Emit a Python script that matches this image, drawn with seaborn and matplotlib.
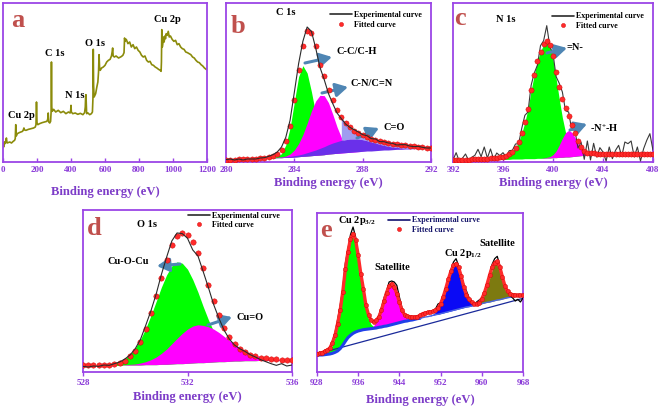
import numpy as np
import matplotlib
matplotlib.use("Agg")
import matplotlib.pyplot as plt
import seaborn as sns
from matplotlib.lines import Line2D

# ---------------- (a) survey spectrum ----------------
survey_ev = [0, 4, 8, 12, 16, 20, 24, 30, 40, 50, 60, 68, 72, 75, 78, 84, 95, 105, 115, 120,
             123, 127, 135, 150, 165, 180, 190, 194, 197, 200, 205, 215, 230, 245, 258, 263, 266, 269, 275, 280,
             283, 285, 287, 290, 298, 310, 325, 340, 355, 370, 385, 395, 398, 400, 402, 410, 425, 440, 455, 470,
             480, 484, 486, 488, 490, 492, 500, 510, 520, 526, 529, 531, 533, 536, 545, 552, 558, 562, 565, 568,
             572, 580, 590, 600, 610, 620, 630, 638, 642, 645, 648, 655, 665, 680, 695, 705, 712, 715, 718, 725,
             735, 745, 755, 765, 775, 785, 795, 805, 815, 825, 835, 845, 855, 865, 875, 885, 895, 905, 915, 925,
             930, 932, 934, 937, 940, 944, 948, 952, 956, 960, 966, 972, 978, 985, 995, 1005, 1015, 1025, 1035, 1045,
             1055, 1065, 1075, 1085, 1095, 1105, 1115, 1125, 1135, 1145, 1155, 1165, 1175, 1185, 1195, 1200]
survey_cps = [55, 45, 60, 55, 62, 72, 57, 58, 60, 57, 62, 65, 70, 112, 78, 85, 88, 90, 92, 97,
              102, 96, 95, 98, 100, 102, 105, 112, 180, 118, 112, 115, 118, 120, 122, 128, 147, 120, 117, 122,
              150, 300, 165, 152, 158, 150, 155, 148, 152, 145, 150, 147, 155, 170, 150, 145, 147, 143, 146, 142,
              148, 165, 195, 202, 170, 145, 147, 142, 145, 150, 190, 338, 230, 195, 205, 225, 240, 270, 322, 285,
              275, 282, 285, 290, 300, 305, 308, 318, 330, 342, 318, 315, 318, 312, 316, 320, 328, 372, 362, 368,
              355, 360, 345, 352, 340, 345, 335, 330, 320, 315, 318, 305, 300, 302, 292, 290, 285, 282, 278, 275,
              272, 300, 397, 345, 355, 375, 360, 378, 370, 385, 380, 392, 375, 378, 368, 362, 365, 352, 355, 345,
              340, 338, 330, 328, 325, 322, 315, 312, 305, 300, 298, 292, 288, 282, 278, 277]

# ---------------- (b) C 1s ----------------
c1s_ev = np.linspace(280, 292, 49)
c1s_fit = [7, 7, 7, 8, 8, 8, 9, 10,
           11, 13, 15, 19, 25, 37, 62, 107,
           187, 277, 347, 392, 387, 347, 292, 257,
           217, 185, 155, 135, 117, 104, 94, 86,
           80, 74, 69, 65, 62, 59, 57, 55,
           53, 51, 50, 48, 47, 46, 44, 43,
           42]
c1s_resid = [0, 2, -1, 1, -2, 1, 0, -1,
             1, 0, 2, 3, 5, 8, 12, 18,
             22, 18, 15, 13, 5, -5, -8, -10,
             -12, -10, -8, -5, -3, 0, 3, 4,
             2, 5, 1, 4, -1, 2, 0, 1,
             -2, 1, 2, 0, -1, 1, 0, -1,
             0]
c1s_base = [7, 7, 8, 8, 9, 9, 10, 10,
            11, 11, 12, 12, 13, 13, 14, 14,
            15, 16, 17, 18, 19, 20, 21, 22,
            24, 25, 26, 27, 28, 29, 30, 31,
            32, 33, 33, 34, 35, 36, 36, 37,
            38, 38, 39, 39, 40, 40, 41, 41,
            42]
c1s_cc = [0] * 10 + [1, 2, 4, 12, 37, 88, 165, 240, 272, 249, 192, 125, 68, 31, 12, 4, 1] + [0] * 22
c1s_cn = [0] * 12 + [1, 2, 4, 10, 21, 39, 65, 98, 134, 163, 179, 177, 154, 118, 79, 47, 25, 11, 5, 2, 1] + [0] * 16
c1s_co = [0] * 12 + [1, 1, 2, 3, 4, 5, 7, 10, 13, 16, 20, 24, 28, 32, 35, 38, 39, 40, 39, 38,
                     35, 31, 27, 23, 18, 14, 11, 8, 6, 4, 3, 2, 2, 1, 1, 0, 0]

# ---------------- (c) N 1s ----------------
n1s_ev = np.linspace(392, 408, 65)
n1s_base = [5, 5, 5, 5, 5, 6, 6, 6,
            6, 6, 7, 7, 7, 7, 8, 8,
            8, 8, 8, 9, 9, 9, 9, 10,
            10, 10, 10, 11, 11, 11, 12, 12,
            13, 13, 14, 14, 15, 15, 16, 17,
            18, 19, 20, 21, 22, 23, 23, 24,
            24, 24, 25, 25, 25, 25, 25, 25,
            25, 25, 25, 25, 25, 25, 25, 25,
            25]
n1s_imine = [1, 1, 1, 1, 1, 1, 2, 2,
             2, 2, 3, 3, 4, 4, 5, 6,
             8, 11, 15, 22, 33, 52, 77, 110,
             150, 205, 252, 292, 320, 342, 350, 335,
             295, 237, 175, 119, 74, 42, 22, 12,
             7, 5, 4, 3, 2, 2, 1, 0] + [0] * 17
n1s_amine = [0] * 29 + [1, 2, 4, 9, 20, 37, 57, 73, 80, 73, 57, 37, 20, 9, 4, 2, 1] + [0] * 19
n1s_fit = [6, 6, 6, 6, 6, 7, 8, 8,
           8, 8, 10, 10, 11, 11, 12, 14,
           16, 19, 24, 31, 42, 61, 87, 120,
           160, 215, 262, 302, 331, 354, 364, 351,
           317, 271, 226, 190, 162, 138, 111, 86,
           62, 44, 33, 28, 26, 26, 25, 25] + [25] * 17
n1s_resid = [0, 22, -3, 5, 18, -2, 6, 12,
             30, 8, 35, 2, 28, -3, 15, 5,
             12, -4, 10, 4, 12, -6, 14, 20,
             -10, 15, 5, -12, 18, 10, 45, -5,
             8, -15, 10, 20, -8, 12, -15, 10,
             -20, 15, -25, 35, -20, 30, -10, 18,
             5, -22, 20, -15, 10, 25, -8, 35,
             30, 38, -10, 20, -22, 15, 40, 60,
             10]

# ---------------- (d) O 1s ----------------
o1s_ev = np.linspace(528, 536, 41)
o1s_fit = [20, 20, 20, 21, 21, 22, 23, 27, 34, 47,
           64, 90, 130, 176, 228, 283, 337, 382, 410, 418,
           412, 392, 357, 312, 262, 213, 170, 132, 104, 84,
           70, 60, 52, 47, 43, 41, 39, 38, 37, 36,
           35]
o1s_resid = [-3, -5, -2, -4, 0, -2, 2, 3, 5, 4,
             6, 8, 10, 8, 6, 10, 8, 12, 8, -2,
             -10, -25, -8, -10, -8, -10, -8, -6, -5, -3,
             0, 2, 0, -2, -6, -10, -14, -18, -12, -18,
             -14]
o1s_base = [20, 20, 20, 20, 20, 20, 20, 20, 21, 21,
            21, 21, 22, 22, 22, 23, 23, 24, 25, 25,
            26, 27, 28, 28, 29, 30, 31, 31, 32, 33,
            33, 34, 34, 34, 35, 35, 35, 35, 35, 35,
            35]
o1s_cuocu = [0, 0, 0, 0, 1, 3, 6, 11, 19, 32,
             51, 77, 109, 148, 190, 232, 269, 295, 306, 302,
             283, 251, 212, 169, 128, 92, 63, 41, 25, 15,
             8, 4, 2, 1, 0, 0, 0, 0, 0, 0,
             0]
o1s_cuo = [0, 0, 0, 0, 0, 0, 0, 0, 1, 2,
           3, 6, 9, 15, 23, 33, 46, 61, 76, 91,
           103, 111, 114, 112, 107, 99, 88, 76, 63, 51,
           40, 30, 22, 16, 11, 7, 4, 3, 2, 1,
           1]

# ---------------- (e) Cu 2p ----------------
cu_ev = np.linspace(928, 968, 81)
cu_fit = [55, 56, 58, 62, 66, 72, 88, 110, 145, 185,
          240, 308, 360, 400, 415, 395, 350, 295, 250, 200,
          172, 155, 150, 155, 165, 185, 212, 238, 258, 265,
          255, 235, 210, 185, 172, 168, 166, 165, 165, 166,
          170, 175, 177, 179, 180, 182, 185, 192, 205, 225,
          250, 278, 302, 320, 325, 314, 287, 255, 232, 218,
          210, 205, 205, 208, 220, 237, 262, 290, 315, 328,
          332, 315, 285, 258, 242, 235, 232, 231, 230, 230,
          230]
cu_resid = [-3, 4, -2, 3, -4, 2, 5, 8, 12, 15,
            10, 18, 8, 12, 20, 10, 5, -2, 3, -3,
            2, -2, 1, -3, 4, 8, 10, 5, 12, 8,
            15, 25, 15, 8, 2, -2, 0, -1, 2, -1,
            0, 1, -2, 1, 0, 2, 4, 12, 3, 5,
            2, -3, 5, 10, 15, 5, 3, 8, 12, 6,
            3, -2, 5, 8, 2, 4, -2, 3, 8, 12,
            15, 5, 2, -3, 2, -5, -10, -18, -12, -20,
            -8]
cu_shirley = [50, 51, 51, 52, 53, 54, 56, 59, 63, 70,
              80, 92, 103, 110, 116, 120, 123, 125, 127, 128,
              129, 130, 131, 132, 134, 135, 137, 138, 140, 142,
              144, 146, 148, 150, 152, 153, 155, 156, 158, 160,
              161, 163, 165, 166, 168, 170, 172, 173, 175, 177,
              179, 181, 183, 185, 187, 189, 191, 193, 195, 196,
              198, 200, 202, 203, 205, 207, 209, 210, 212, 214,
              216, 217, 219, 221, 223, 224, 226, 227, 228, 229,
              230]
cu_linear_ev = [928, 968]
cu_linear = [54, 221]
cu_p32 = [0, 0, 1, 3, 6, 13, 25, 45, 75, 114, 161, 211, 256, 288, 299, 281, 232, 168, 108, 61,
          30, 13, 5, 2, 1] + [0] * 56
cu_sat1 = [0] * 20 + [1, 4, 8, 17, 31, 51, 75, 98, 116, 123, 115, 94, 66, 41, 22, 10, 4, 1] + [0] * 43
cu_p12 = [0] * 44 + [1, 3, 7, 15, 26, 44, 66, 91, 115, 132, 138, 128, 103, 71, 42, 22, 10, 4, 1] + [0] * 18
cu_sat2 = [0] * 61 + [1, 3, 8, 16, 29, 48, 71, 94, 111, 117, 104, 74, 42, 19, 7, 2, 1] + [0] * 3

for grp in [(c1s_ev, c1s_fit, c1s_resid, c1s_base, c1s_cc, c1s_cn, c1s_co),
            (n1s_ev, n1s_base, n1s_imine, n1s_amine, n1s_fit, n1s_resid),
            (o1s_ev, o1s_fit, o1s_resid, o1s_base, o1s_cuocu, o1s_cuo),
            (cu_ev, cu_fit, cu_resid, cu_shirley, cu_p32, cu_sat1, cu_p12, cu_sat2)]:
    assert len(set(len(g) for g in grp)) == 1, [len(g) for g in grp]

# ---------------- styling ----------------
sns.set_theme(style="white")
plt.rcParams["font.family"] = ["Liberation Serif", "DejaVu Serif"]
plt.rcParams["font.weight"] = "bold"
plt.rcParams["mathtext.fontset"] = "custom"
plt.rcParams["mathtext.rm"] = "Liberation Serif:bold"
plt.rcParams["mathtext.it"] = "Liberation Serif:bold"
plt.rcParams["mathtext.bf"] = "Liberation Serif:bold"

W, H = 661, 408
fig = plt.figure(figsize=(W / 100, H / 100), dpi=100)
fig.patch.set_facecolor("white")

SPINE = "#9b45e6"
TICK = "#8a3ad8"
XLAB = "#7d3cc8"
RED = "#ff2b2b"
REDE = "#d00000"
EXP = "#2a2a2a"
ARROW = "#4f86b4"
LETTER = "#c0504d"
GREEN = "#00ff00"
MAGENTA = "#ff00ff"


def axes_px(x0, y0, x1, y1):
    return fig.add_axes([x0 / W, 1 - y1 / H, (x1 - x0) / W, (y1 - y0) / H])


def style(ax, ticks, ylim, label_y, tickdir="in"):
    ax.set_xlim(ticks[0], ticks[-1])
    ax.set_ylim(*ylim)
    ax.set_xticks(ticks)
    ax.set_xticklabels([str(t) for t in ticks])
    ax.set_yticks([])
    ax.grid(False)
    ax.set_facecolor("white")
    for s in ax.spines.values():
        s.set_visible(True)
        s.set_color(SPINE)
        s.set_linewidth(1.3)
    ax.tick_params(axis="x", direction=tickdir, length=2.8, width=1, color=SPINE,
                   labelsize=6.5, labelcolor=TICK, pad=3 if tickdir == "in" else 2, bottom=True)
    ax.set_xlabel("Binding energy (eV)", fontsize=9.1, fontweight="bold", color=XLAB)
    ax.xaxis.set_label_coords(0.5, label_y)
    ax.xaxis.label.set_va("center")


def ftext(x, y, s, size=7.5, color="black", **kw):
    fig.text(x / W, 1 - y / H, s, ha="center", va="center", fontsize=size,
             fontweight="bold", color=color, **kw)


def letter(x, y, s):
    fig.text(x / W, 1 - y / H, s, ha="center", va="baseline", fontsize=19,
             fontweight="bold", color=LETTER)


def farrow(ax, x0, y0, x1, y1):
    ax.annotate("", xy=(x1, H - y1), xytext=(x0, H - y0), xycoords="figure pixels",
                textcoords="figure pixels",
                arrowprops=dict(arrowstyle="-|>,head_width=0.45,head_length=0.8", color=ARROW,
                                lw=2.2, shrinkA=0, shrinkB=0, mutation_scale=9))


def legend(ax, x_px, y_px, line_color=EXP, text_color="black"):
    handles = [Line2D([], [], color=line_color, lw=1.2),
               Line2D([], [], ls="none", marker="o", ms=3.0, mfc=RED, mec=REDE, mew=0.3)]
    leg = ax.legend(handles, ["Experimental curve", "Fitted curve"], loc="upper left",
                    bbox_to_anchor=(x_px / W, 1 - y_px / H), bbox_transform=fig.transFigure,
                    frameon=False, prop={"size": 5.8, "weight": "bold"}, handlelength=2.7,
                    handletextpad=0.25, labelspacing=0.2, borderpad=0, borderaxespad=0)
    for t in leg.get_texts():
        t.set_color(text_color)


def fill(ax, x, base, comp, color, z=1, alpha=1.0):
    base = np.asarray(base, float)
    top = base + np.asarray(comp, float)
    ax.fill_between(x, base, top, where=np.asarray(comp) > 0, interpolate=True,
                    color=color, lw=0, zorder=z, alpha=alpha)


# ---- (a)
ax = axes_px(3, 3, 207, 162)
sns.lineplot(x=survey_ev, y=survey_cps, ax=ax, color="#8b8b0a", lw=1.2)
style(ax, [0, 200, 400, 600, 800, 1000, 1200], (0, 477), -0.189)
letter(17.5, 27, "a")
ftext(21, 116, "Cu 2p")
ftext(55, 54, "C 1s")
ftext(75, 95, "N 1s")
ftext(95, 44, "O 1s")
ftext(167, 20, "Cu 2p")

# ---- (b)
ax = axes_px(226, 3, 431, 162)
fill(ax, c1s_ev, c1s_base, c1s_cc, GREEN, 1)
fill(ax, c1s_ev, c1s_base, c1s_cn, MAGENTA, 2)
co_top = np.asarray(c1s_base) + np.asarray(c1s_co)
ax.fill_between(c1s_ev, co_top, c1s_fit, where=c1s_ev >= 286.75, color="#a09cf0", lw=0, zorder=2)
fill(ax, c1s_ev, c1s_base, c1s_co, "#6a30ea", 3)
c1s_exp = np.asarray(c1s_fit) + np.asarray(c1s_resid)
sns.scatterplot(x=c1s_ev, y=c1s_fit, ax=ax, s=14, color=RED, edgecolor=REDE, linewidth=0.3, zorder=4)
sns.lineplot(x=c1s_ev, y=c1s_exp, ax=ax, color=EXP, lw=0.8, zorder=5)
style(ax, [280, 284, 288, 292], (0, 477), -0.132)
letter(237.5, 33, "b")
ftext(286, 12.5, "C 1s")
legend(ax, 330, 11)
ftext(357, 51, "C-C/C-H")
ftext(372, 84, "C-N/C=N")
ftext(394, 127, "C=O")
farrow(ax, 305, 63, 332, 57)
farrow(ax, 322, 93, 348, 87)
farrow(ax, 357, 138, 379, 128)

# ---- (c)
ax = axes_px(453, 3, 653, 162)
fill(ax, n1s_ev, n1s_base, n1s_imine, GREEN, 1)
fill(ax, n1s_ev, n1s_base, n1s_amine, MAGENTA, 2)
n1s_exp = np.asarray(n1s_fit) + np.asarray(n1s_resid)
sns.lineplot(x=n1s_ev, y=n1s_exp, ax=ax, color="#3a3a3a", lw=0.8, zorder=3)
sns.scatterplot(x=n1s_ev, y=n1s_fit, ax=ax, s=14, color=RED, edgecolor=REDE, linewidth=0.3, zorder=4)
style(ax, [392, 396, 400, 404, 408], (0, 477), -0.132)
letter(460, 25, "c")
ftext(506, 19.5, "N 1s")
legend(ax, 552, 12.5)
ftext(575, 48, "=N-")
ftext(604, 128, "-N$^{+}$-H")
farrow(ax, 547, 53, 567, 48)
farrow(ax, 570, 130, 587, 124)

# ---- (d)
ax = axes_px(83, 210, 292, 372)
fill(ax, o1s_ev, o1s_base, o1s_cuocu, GREEN, 1)
fill(ax, o1s_ev, o1s_base, o1s_cuo, MAGENTA, 2)
o1s_exp = np.asarray(o1s_fit) + np.asarray(o1s_resid)
sns.scatterplot(x=o1s_ev, y=o1s_fit, ax=ax, s=15, color=RED, edgecolor=REDE, linewidth=0.3, zorder=4)
sns.lineplot(x=o1s_ev, y=o1s_exp, ax=ax, color=EXP, lw=0.8, zorder=5)
style(ax, [528, 532, 536], (0, 487), -0.154, tickdir="out")
letter(94.5, 235, "d")
ftext(147, 224, "O 1s")
legend(ax, 188, 211.5)
ftext(128, 262, "Cu-O-Cu")
ftext(250, 317, "Cu=O")
farrow(ax, 180, 264, 157, 266)
farrow(ax, 208, 325, 232, 317)

# ---- (e)
ax = axes_px(317, 213, 523, 372)
fill(ax, cu_ev, cu_shirley, cu_p32, GREEN, 1)
fill(ax, cu_ev, cu_shirley, cu_sat1, MAGENTA, 1)
fill(ax, cu_ev, cu_shirley, cu_p12, "#0a0af5", 1)
fill(ax, cu_ev, cu_shirley, cu_sat2, "#7d7a10", 1)
sns.lineplot(x=cu_linear_ev, y=cu_linear, ax=ax, color="#1a2a9a", lw=0.9, zorder=2)
sns.lineplot(x=cu_ev[:41], y=cu_shirley[:41], ax=ax, color="#2040e8", lw=2.2, zorder=2)
sns.lineplot(x=cu_ev[40:], y=cu_shirley[40:], ax=ax, color="#4a66e0", lw=1.0, zorder=2)
cu_exp = np.asarray(cu_fit) + np.asarray(cu_resid)
sns.lineplot(x=cu_ev, y=cu_exp, ax=ax, color="black", lw=0.9, zorder=3)
sns.lineplot(x=cu_ev, y=cu_fit, ax=ax, color=RED, lw=2.4, zorder=4)
sns.scatterplot(x=cu_ev, y=cu_fit, ax=ax, s=9, color=RED, edgecolor=REDE, linewidth=0.3, zorder=5)
style(ax, [928, 936, 944, 952, 960, 968], (0, 477), -0.176, tickdir="out")
letter(325.5, 237, "e")
ftext(357, 221, "Cu 2p$_{3/2}$")
legend(ax, 388, 216.5, line_color="#101070", text_color="#15156a")
ftext(392, 268, "Satellite")
ftext(463, 254, "Cu 2p$_{1/2}$")
ftext(497, 244, "Satellite")

fig.savefig("out.png", dpi=100, facecolor="white")
